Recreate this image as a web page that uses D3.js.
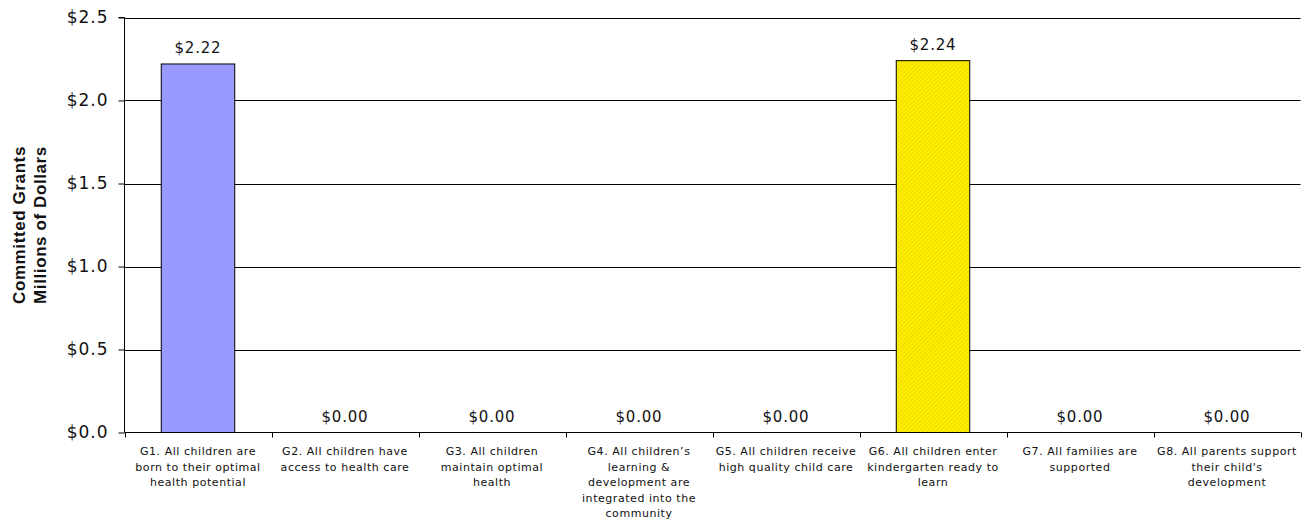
<!DOCTYPE html>
<html><head><meta charset="utf-8">
<script src="https://cdn.jsdelivr.net/npm/d3@7"></script>
<style>
body{margin:0;background:#fff;}
svg{display:block;font-family:"DejaVu Sans",Verdana,sans-serif;}
</style></head>
<body><svg id="c" width="1302" height="521"></svg>
<script>
const categories = [
  ["G1. All children are","born to their optimal","health potential"],
  ["G2. All children have","access to health care"],
  ["G3. All children","maintain optimal","health"],
  ["G4. All children’s","learning &","development are","integrated into the","community"],
  ["G5. All children receive","high quality child care"],
  ["G6. All children enter","kindergarten ready to","learn"],
  ["G7. All families are","supported"],
  ["G8. All parents support","their child's","development"]
];
const values = [2.22, 0, 0, 0, 0, 2.24, 0, 0];
const yTicks = [0, 0.5, 1.0, 1.5, 2.0, 2.5];
const yTitle = ["Committed Grants", "Millions of Dollars"];

const svg = d3.select("#c");
const m = {left:124.5, right:1300.5, top:17.5, bottom:432.5};
const keys = categories.map((d,i)=>"c"+i);
const x = d3.scaleBand().domain(keys).range([m.left, m.right]).paddingInner(0.5).paddingOuter(0.25);
const y = d3.scaleLinear().domain([0, 2.5]).range([m.bottom, m.top]);

const defs = svg.append("defs");
const pat = defs.append("pattern").attr("id","hatch").attr("patternUnits","userSpaceOnUse")
  .attr("width",3).attr("height",3).attr("patternTransform","rotate(-45)");
pat.append("rect").attr("width",3).attr("height",3).attr("fill","#FFF000");
pat.append("rect").attr("width",3).attr("height",1).attr("fill","#E8D800");

// gridlines
svg.append("g").selectAll("line").data(yTicks.filter(d=>d>0)).join("line")
  .attr("x1", m.left).attr("x2", m.right)
  .attr("y1", d=>Math.round(y(d))+0.5).attr("y2", d=>Math.round(y(d))+0.5)
  .attr("stroke","#000").attr("stroke-width",1);

// bars
const fills = ["#9999FF", null, null, null, null, "url(#hatch)", null, null];
svg.append("g").selectAll("rect").data(values.map((v,i)=>({v,i})).filter(d=>d.v>0)).join("rect")
  .attr("x", d=>x(keys[d.i]))
  .attr("y", d=>y(d.v))
  .attr("width", x.bandwidth())
  .attr("height", d=>y(0)-y(d.v))
  .attr("fill", d=>fills[d.i])
  .attr("stroke","#000").attr("stroke-width",1);

// value labels
svg.append("g").selectAll("text").data(values).join("text")
  .attr("x",(d,i)=>x(keys[i])+x.bandwidth()/2)
  .attr("y", d=>y(d)-11)
  .attr("text-anchor","middle").attr("font-size",15).attr("letter-spacing",0.8)
  .attr("fill","#111")
  .text(d=>"$"+d.toFixed(2));

// y axis
const yAxis = d3.axisLeft(y).tickValues(yTicks).tickSize(6).tickPadding(10)
  .tickFormat(d=>"$"+d.toFixed(1));
const gy = svg.append("g").attr("transform",`translate(${m.left},0)`).call(yAxis);
gy.select(".domain").attr("stroke","#000").attr("d",`M-6,${m.top}H0V${m.bottom}`);
gy.selectAll(".tick line").attr("stroke","#000");
gy.selectAll("text").attr("font-size",17).attr("font-family","DejaVu Sans").attr("letter-spacing",1).attr("fill","#111");

// x axis baseline and ticks at category boundaries
const bounds = d3.range(categories.length+1).map(i=>m.left + i*(m.right-m.left)/categories.length);
svg.append("line").attr("x1",m.left).attr("x2",m.right).attr("y1",m.bottom).attr("y2",m.bottom).attr("stroke","#000");
svg.append("g").selectAll("line").data(bounds).join("line")
  .attr("x1",d=>Math.round(d)+0.5).attr("x2",d=>Math.round(d)+0.5)
  .attr("y1",m.bottom).attr("y2",m.bottom+5).attr("stroke","#000");

// category labels
const cg = svg.append("g").attr("font-size",11).attr("fill","#111").attr("text-anchor","middle").attr("letter-spacing",0.55);
categories.forEach((lines,i)=>{
  const t = cg.append("text").attr("x", x(keys[i])+x.bandwidth()/2).attr("y", 455);
  lines.forEach((l,j)=>t.append("tspan").attr("x", x(keys[i])+x.bandwidth()/2).attr("dy", j?15.5:0).text(l));
});

// y title
const tt = svg.append("text").attr("transform",`translate(0,${(m.top+m.bottom)/2}) rotate(-90)`)
  .attr("text-anchor","middle").attr("font-weight","bold").attr("font-size",17)
  .attr("font-family","Liberation Sans, Arial, sans-serif").attr("letter-spacing",0.6).attr("fill","#111");
tt.append("tspan").attr("x",0).attr("y",25).text(yTitle[0]);
tt.append("tspan").attr("x",0).attr("y",46).text(yTitle[1]);
</script></body></html>
